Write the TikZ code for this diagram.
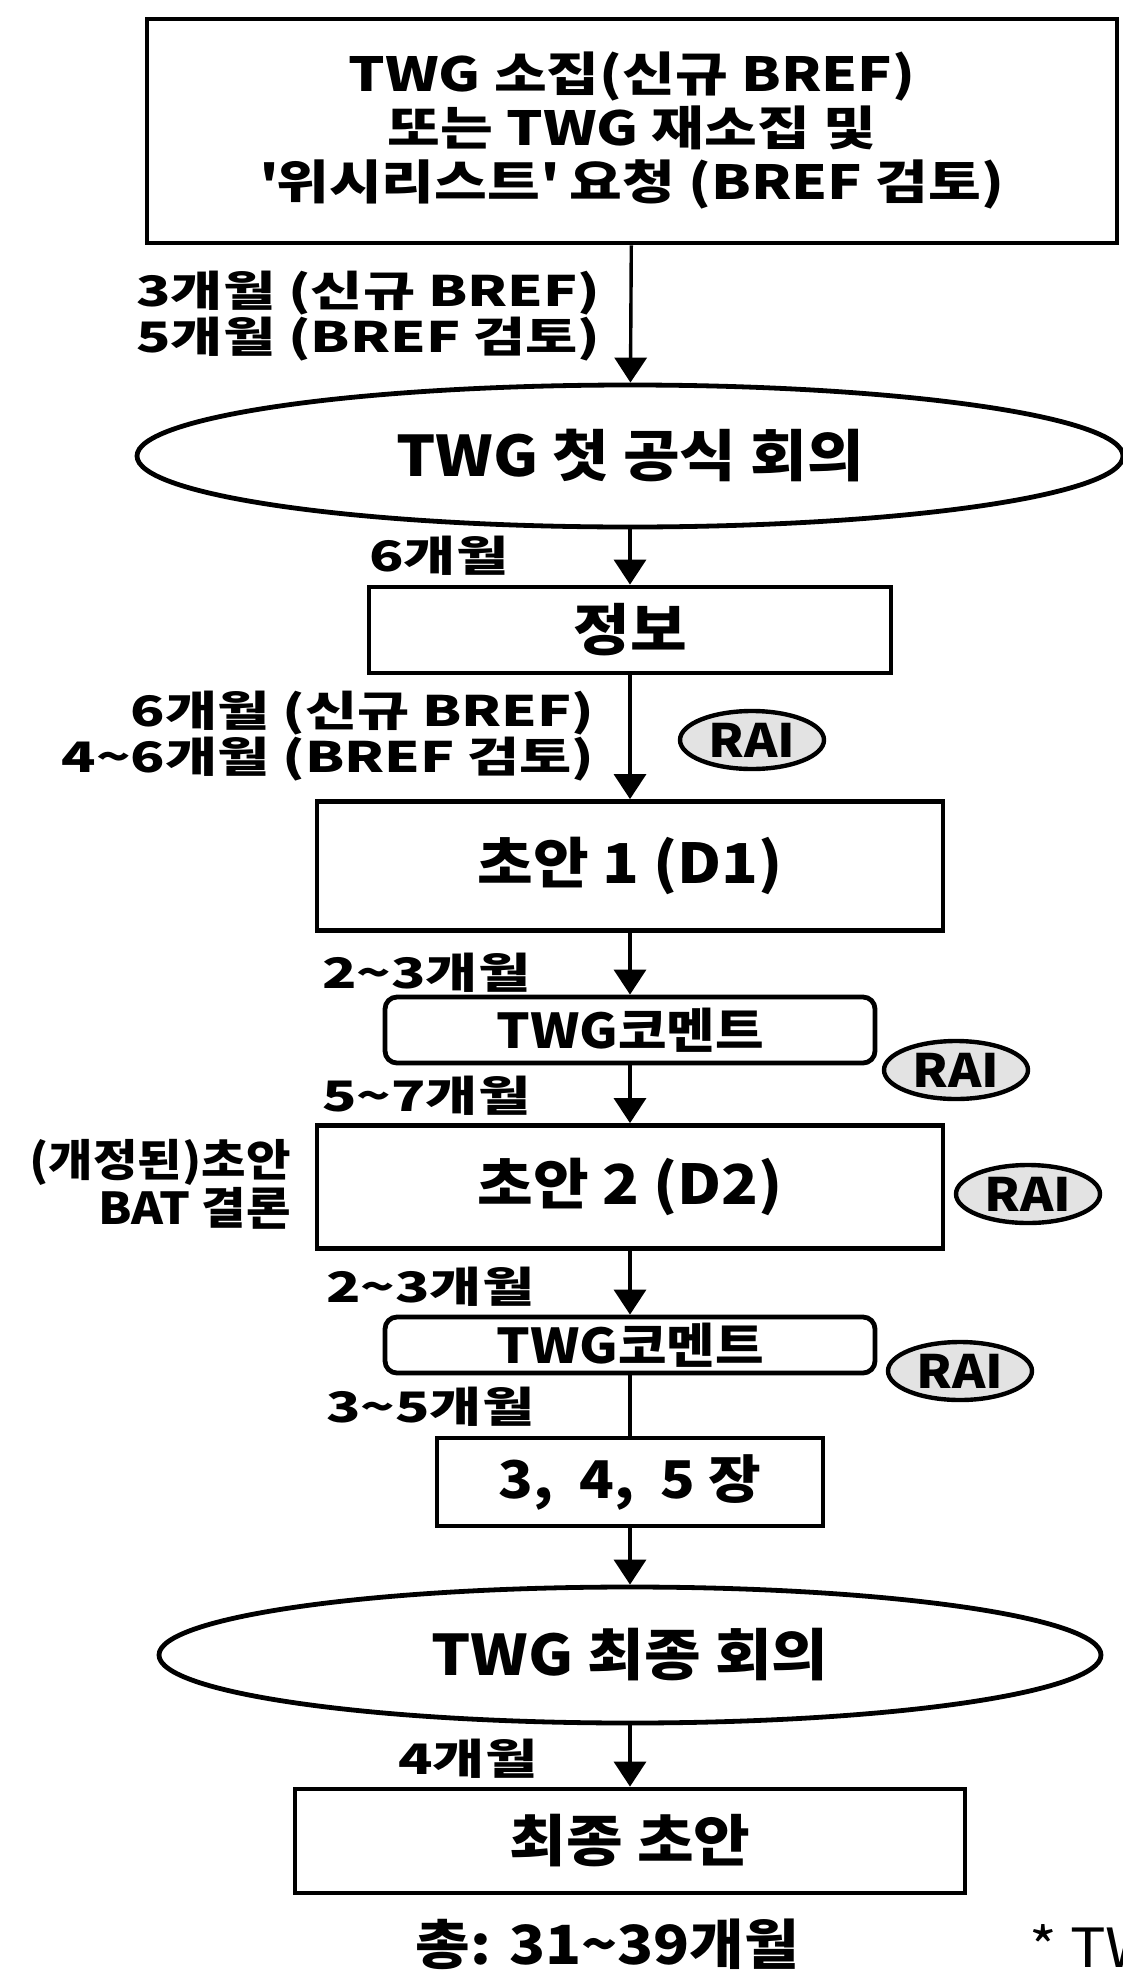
\documentclass[tikz,border=0pt]{standalone}
\usepackage{fontspec}
\setmainfont{Noto Sans CJK KR}[FakeStretch=1.1]
\newfontfamily\wideA{Noto Sans CJK KR}[FakeStretch=1.22]
\newfontfamily\wideB{Noto Sans CJK KR}[FakeStretch=1.35]
\usetikzlibrary{arrows.meta,shapes.geometric}
\begin{document}
\begin{tikzpicture}[x=0.5pt,y=-0.5pt,
  box/.style={draw, line width=2.4pt, inner sep=0pt, align=center, font=\bfseries\fontsize{27.5}{31}\selectfont},
  rbox/.style={box, rounded corners=6pt, font=\bfseries\fontsize{24}{27}\selectfont},
  oval/.style={ellipse, draw, line width=2.4pt, inner sep=0pt, font=\bfseries\fontsize{28}{32}\selectfont},
  lab/.style={inner sep=0pt, font=\wideB\bfseries\fontsize{21}{21}\selectfont},
  rai/.style={ellipse, draw, line width=2.2pt, fill=gray!22, inner sep=0pt, minimum width=72pt, minimum height=29pt, font=\bfseries\fontsize{23}{23}\selectfont},
  arr/.style={line width=1.7pt, -{Triangle[width=16pt,length=12.5pt]}},
  plain/.style={line width=1.7pt}]
\useasboundingbox (0,0) rectangle (1123,1980);
\node[box, minimum width=485pt, minimum height=112pt, font=\wideA\bfseries\fontsize{23.5}{27}\selectfont] (top) at (632,131)
  {TWG 소집(신규 BREF)\\또는 TWG 재소집 및\\\textquotesingle 위시리스트\textquotesingle{} 요청 (BREF 검토)};
\node[oval, minimum width=493pt, minimum height=71pt] (e1) at (630,456) {TWG 첫 공식 회의};
\node[box, minimum width=261pt, minimum height=43pt, font=\bfseries\fontsize{28}{32}\selectfont] (info) at (630,630) {정보};
\node[box, minimum width=313pt, minimum height=64.5pt] (d1) at (630,866) {초안 1 (D1)};
\node[rbox, minimum width=245pt, minimum height=33pt] (c1) at (630,1030) {TWG코멘트};
\node[box, minimum width=313pt, minimum height=61.5pt] (d2) at (630,1187) {초안 2 (D2)};
\node[rbox, minimum width=245pt, minimum height=28pt] (c2) at (630,1345) {TWG코멘트};
\node[box, minimum width=193pt, minimum height=44pt, font=\bfseries\fontsize{26}{30}\selectfont] (ch) at (630,1482) {3,\ \ 4,\ \ 5 장};
\node[oval, minimum width=471pt, minimum height=68pt] (e2) at (630,1655) {TWG 최종 회의};
\node[box, minimum width=335pt, minimum height=52pt, font=\bfseries\fontsize{28}{32}\selectfont] (fin) at (630,1841) {최종 초안};
% labels
\node[lab, anchor=west, align=left] (l1) at (136,316) {3개월 (신규 BREF)\\5개월 (BREF 검토)};
\node[lab, anchor=west] (l2) at (369,556) {6개월};
\node[lab, anchor=east, align=right] (l3) at (595,736) {6개월 (신규 BREF)\\4\textasciitilde 6개월 (BREF 검토)};
\node[lab, anchor=west] (l4) at (322,973) {2\textasciitilde 3개월};
\node[lab, anchor=west] (l5) at (322,1096) {5\textasciitilde 7개월};
\node[lab, anchor=east, align=right, font=\bfseries\fontsize{22}{24}\selectfont] (l6) at (291,1184) {(개정된)초안\\BAT 결론};
\node[lab, anchor=west] (l7) at (326,1287) {2\textasciitilde 3개월};
\node[lab, anchor=west] (l8) at (326,1407) {3\textasciitilde 5개월};
\node[lab, anchor=west] (l9) at (398,1759) {4개월};
\node[lab, anchor=west, font=\bfseries\fontsize{27}{30}\selectfont] (tot) at (415,1944) {총: 31\textasciitilde 39개월};
\node[lab, anchor=west, font=\fontsize{27}{30}\selectfont] (note) at (1029,1946) {* TW};
% RAI
\node[rai] (r1) at (752,740) {RAI};
\node[rai] (r2) at (956,1070) {RAI};
\node[rai] (r3) at (1028,1194) {RAI};
\node[rai] (r4) at (960,1371) {RAI};
% connectors
\draw[arr] (top) -- (e1);
\draw[arr] (e1) -- (info);
\draw[arr] (info) -- (d1);
\draw[arr] (d1) -- (c1);
\draw[arr] (c1) -- (d2);
\draw[arr] (d2) -- (c2);
\draw[plain] (c2) -- (ch);
\draw[arr] (ch) -- (e2);
\draw[arr] (e2) -- (fin);
\end{tikzpicture}
\end{document}
